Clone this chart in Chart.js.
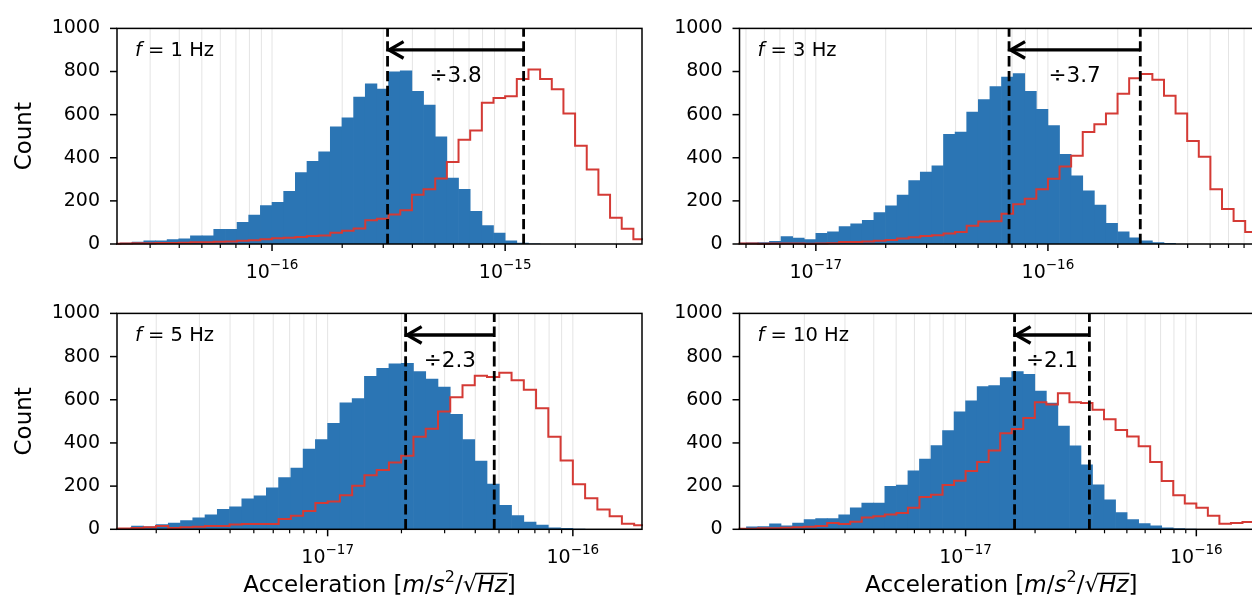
<!DOCTYPE html>
<html><head><meta charset="utf-8">
<script src="https://cdn.jsdelivr.net/npm/chart.js@4.4.1/dist/chart.umd.min.js"></script>
<style>
html,body{margin:0;padding:0;background:#fff;overflow:hidden;width:1252px;height:600px;}
#wrap{position:relative;width:1252px;height:600px;overflow:hidden;background:#fff;}
canvas{position:absolute;}
</style></head><body><div id="wrap">
<canvas id="c0"></canvas><canvas id="c1"></canvas><canvas id="c2"></canvas><canvas id="c3"></canvas>
</div>
<script>
// ---------------- DATA ----------------
const FREQ_LABELS = ['1', '3', '5', '10'];
const RATIO_LABELS = ['÷3.8', '÷3.7', '÷2.3', '÷2.1'];
const X_MIN_EXP = [-16.665, -17.329, -17.859, -17.98];
const X_MAX_EXP = [-14.413, -15.069, -15.718, -15.711];
const X_DECADES = [[-16, -15], [-17, -16], [-17, -16], [-17, -16]];
const Y_TICKS = [0, 200, 400, 600, 800, 1000];
const BIN_START_EXP = [-16.70, -17.35, -17.90, -18.00];
const BIN_WIDTH_DEX = 0.05;

const BLUE_1 = [3, 4, 9, 15, 15, 21, 24, 38, 38, 68, 68, 101, 134, 178, 193, 244, 331, 384, 427, 544, 585, 681, 743, 718, 799, 803, 708, 644, 497, 306, 254, 152, 85, 51, 15, 4, 1];
const RED_1 = [1, 2, 3, 4, 5, 5, 6, 8, 8, 10, 12, 15, 17, 22, 27, 29, 33, 37, 40, 52, 62, 72, 110, 117, 137, 157, 228, 254, 304, 380, 483, 527, 655, 677, 685, 765, 809, 765, 718, 605, 456, 346, 228, 122, 71, 22];
const BLUE_2 = [4, 6, 7, 12, 34, 28, 21, 50, 57, 81, 93, 110, 146, 177, 227, 294, 334, 363, 509, 519, 612, 670, 730, 774, 791, 708, 625, 549, 416, 316, 247, 181, 96, 56, 29, 15, 7, 3];
const RED_2 = [2, 2, 1, 2, 2, 2, 1, 2, 4, 9, 9, 12, 15, 19, 25, 31, 37, 41, 49, 56, 85, 104, 105, 140, 184, 210, 254, 303, 360, 409, 519, 556, 605, 697, 769, 788, 762, 688, 605, 478, 405, 254, 162, 107, 56];
const BLUE_3 = [3, 4, 15, 12, 22, 29, 40, 53, 67, 92, 104, 141, 155, 192, 239, 283, 371, 415, 491, 586, 605, 708, 745, 766, 769, 730, 696, 659, 532, 415, 316, 209, 111, 63, 34, 19, 7, 4, 1];
const RED_3 = [3, 4, 6, 9, 15, 6, 9, 12, 15, 15, 22, 25, 25, 25, 48, 63, 85, 122, 129, 158, 202, 250, 275, 309, 341, 429, 466, 546, 612, 667, 711, 705, 725, 690, 646, 561, 429, 319, 209, 144, 92, 60, 26, 19];
const BLUE_4 = [4, 12, 13, 25, 16, 29, 45, 50, 50, 67, 100, 122, 122, 199, 205, 271, 325, 388, 457, 544, 595, 661, 666, 703, 730, 718, 640, 585, 478, 387, 299, 206, 137, 78, 45, 26, 16, 7, 3, 1];
const RED_4 = [2, 3, 5, 5, 7, 10, 12, 15, 29, 25, 35, 55, 60, 68, 75, 100, 150, 160, 205, 225, 270, 312, 365, 445, 465, 515, 588, 578, 630, 588, 585, 554, 510, 460, 430, 385, 312, 224, 158, 119, 100, 63, 26, 29, 34];

const LINE_LOW = [3.13e-16, 6.8e-17, 2.08e-17, 1.63e-17];
const LINE_HIGH = [1.20e-15, 2.5e-16, 4.78e-17, 3.44e-17];
const ARROW_Y = 900;
const RATIO_TEXT_Y = 752;

const BLUE_SERIES = [BLUE_1, BLUE_2, BLUE_3, BLUE_4];
const RED_SERIES = [RED_1, RED_2, RED_3, RED_4];

// ---------------- STYLE / LAYOUT ----------------
const FONT = '"DejaVu Sans", sans-serif';
const C_BLUE = '#2b75b4', C_RED = '#d43a35', C_GRID = '#e4e4e4';
const LAYOUT = [
  {cv: {l: 0, t: 0, w: 680, h: 290}, area: {l: 117, t: 17.4, r: 642, b: 244}, yTitle: true, xTitle: false},
  {cv: {l: 620, t: 0, w: 680, h: 290}, area: {l: 739.5, t: 17.4, r: 1264, b: 244}, yTitle: false, xTitle: false},
  {cv: {l: 0, t: 285, w: 680, h: 315}, area: {l: 117, t: 301.8, r: 642, b: 529.3}, yTitle: true, xTitle: true},
  {cv: {l: 620, t: 285, w: 680, h: 315}, area: {l: 739.5, t: 301.8, r: 1263, b: 529.3}, yTitle: false, xTitle: true}
];

function fontOf(s) {
  return (s.it ? 'italic ' : '') + (s.size || 19) + 'px ' + FONT;
}
function drawRich(ctx, segs, x, y, align) {
  let total = 0;
  const w = segs.map(s => { ctx.font = fontOf(s); const m = ctx.measureText(s.t).width; total += m; return m; });
  let cx = align === 'center' ? x - total / 2 : x;
  ctx.textAlign = 'left'; ctx.textBaseline = 'alphabetic';
  segs.forEach((s, k) => {
    ctx.font = fontOf(s);
    ctx.fillText(s.t, cx, y - (s.dy || 0));
    if (s.over) {
      const sz = s.size || 19;
      ctx.save(); ctx.lineWidth = 1.4; ctx.strokeStyle = '#000';
      ctx.beginPath(); ctx.moveTo(cx - 2, y - 0.82 * sz); ctx.lineTo(cx + w[k] + 1, y - 0.82 * sz); ctx.stroke();
      ctx.restore();
    }
    cx += w[k];
  });
}
function tickValues(i) {
  const out = [];
  for (let e = Math.floor(X_MIN_EXP[i]); e <= Math.ceil(X_MAX_EXP[i]); e++) {
    for (let m = 1; m <= 9; m++) {
      const lv = e + Math.log10(m);
      if (lv >= X_MIN_EXP[i] && lv <= X_MAX_EXP[i]) out.push({v: m * Math.pow(10, e), major: m === 1});
    }
  }
  return out;
}

const deco = {
  id: 'deco',
  beforeDatasetsDraw(chart) {
    const i = chart.options.plugins.deco.idx;
    const {ctx, chartArea: a} = chart; const x = chart.scales.x;
    ctx.save(); ctx.strokeStyle = C_GRID; ctx.lineWidth = 1;
    tickValues(i).forEach(t => {
      const p = x.getPixelForValue(t.v);
      ctx.beginPath(); ctx.moveTo(p, a.top); ctx.lineTo(p, a.bottom); ctx.stroke();
    });
    ctx.restore();
  },
  afterDatasetsDraw(chart) {
    const i = chart.options.plugins.deco.idx;
    const {ctx, chartArea: a} = chart; const x = chart.scales.x, y = chart.scales.y;
    ctx.save();
    ctx.strokeStyle = '#000'; ctx.lineWidth = 2.8; ctx.setLineDash([10.3, 4.5]);
    [LINE_LOW[i], LINE_HIGH[i]].forEach(v => {
      const p = x.getPixelForValue(v);
      ctx.beginPath(); ctx.moveTo(p, a.bottom); ctx.lineTo(p, a.top); ctx.stroke();
    });
    ctx.setLineDash([]);
    const xl = x.getPixelForValue(LINE_LOW[i]), xr = x.getPixelForValue(LINE_HIGH[i]);
    const ya = y.getPixelForValue(ARROW_Y);
    ctx.lineWidth = 3.3; ctx.lineCap = 'butt';
    ctx.beginPath(); ctx.moveTo(xr, ya); ctx.lineTo(xl + 2, ya); ctx.stroke();
    ctx.lineJoin = 'miter';
    ctx.beginPath(); ctx.moveTo(xl + 16, ya - 8.3); ctx.lineTo(xl + 1.5, ya); ctx.lineTo(xl + 16, ya + 8.3); ctx.stroke();
    ctx.fillStyle = '#000'; ctx.font = '21.5px ' + FONT; ctx.textAlign = 'center'; ctx.textBaseline = 'alphabetic';
    const xm = x.getPixelForValue(Math.sqrt(LINE_LOW[i] * LINE_HIGH[i]));
    ctx.fillText(RATIO_LABELS[i], xm, y.getPixelForValue(RATIO_TEXT_Y));
    drawRich(ctx, [{t: 'f', it: true, size: 19.5}, {t: ' = ' + FREQ_LABELS[i] + ' Hz', size: 19.5}], a.left + 18, a.top + 27.6, 'left');
    ctx.restore();
  },
  afterDraw(chart) {
    const i = chart.options.plugins.deco.idx;
    const L = LAYOUT[i];
    const {ctx, chartArea: a} = chart; const x = chart.scales.x, y = chart.scales.y;
    ctx.save();
    ctx.strokeStyle = '#000'; ctx.fillStyle = '#000';
    ctx.lineWidth = 1.5;
    ctx.strokeRect(a.left, a.top, a.right - a.left, a.bottom - a.top);
    tickValues(i).forEach(t => {
      const p = x.getPixelForValue(t.v);
      ctx.lineWidth = t.major ? 1.5 : 1.2;
      ctx.beginPath(); ctx.moveTo(p, a.bottom); ctx.lineTo(p, a.bottom + (t.major ? 7 : 4)); ctx.stroke();
    });
    ctx.lineWidth = 1.5;
    Y_TICKS.forEach(v => {
      const p = y.getPixelForValue(v);
      ctx.beginPath(); ctx.moveTo(a.left - 7, p); ctx.lineTo(a.left, p); ctx.stroke();
    });
    X_DECADES[i].forEach(e => {
      const p = x.getPixelForValue(Math.pow(10, e));
      drawRich(ctx, [{t: '10'}, {t: '\u2212' + Math.abs(e), size: 13.5, dy: 9}], p, a.bottom + 34, 'center');
    });
    if (L.xTitle) {
      drawRich(ctx, [
        {t: 'Acceleration [', size: 23}, {t: 'm', it: true, size: 23}, {t: '/', size: 23}, {t: 's', it: true, size: 23},
        {t: '2', size: 16, dy: 10}, {t: '/', size: 23}, {t: '\u221A', size: 23}, {t: 'Hz', it: true, over: true, size: 23}, {t: ']', size: 23}
      ], (a.left + a.right) / 2, a.bottom + 63, 'center');
    }
    ctx.restore();
  }
};

function makeChart(i) {
  const L = LAYOUT[i];
  const cv = document.getElementById('c' + i);
  cv.width = L.cv.w; cv.height = L.cv.h;
  cv.style.left = L.cv.l + 'px'; cv.style.top = L.cv.t + 'px';
  cv.style.width = L.cv.w + 'px'; cv.style.height = L.cv.h + 'px';
  const start = BIN_START_EXP[i];
  const barData = BLUE_SERIES[i].map((c, k) => ({x: Math.pow(10, start + (k + 0.5) * BIN_WIDTH_DEX), y: c}));
  const red = RED_SERIES[i];
  const lineData = [{x: Math.pow(10, start), y: 0}];
  red.forEach((c, k) => lineData.push({x: Math.pow(10, start + k * BIN_WIDTH_DEX), y: c}));
  lineData.push({x: Math.pow(10, start + red.length * BIN_WIDTH_DEX), y: 0});

  new Chart(cv, {
    type: 'bar',
    data: {datasets: [
      {type: 'line', data: lineData, borderColor: C_RED, borderWidth: 2, pointRadius: 0, stepped: 'before',
       fill: false, tension: 0, order: 0, clip: 1},
      {type: 'bar', data: barData, backgroundColor: C_BLUE, borderWidth: 0, barPercentage: 1,
       categoryPercentage: 1, order: 1, clip: 0}
    ]},
    options: {
      responsive: false, animation: false, events: [],
      layout: {padding: {left: 0, top: L.area.t - L.cv.t, right: L.cv.l + L.cv.w - L.area.r, bottom: 0}},
      plugins: {legend: {display: false}, tooltip: {enabled: false}, deco: {idx: i}},
      scales: {
        x: {
          type: 'logarithmic', min: Math.pow(10, X_MIN_EXP[i]), max: Math.pow(10, X_MAX_EXP[i]),
          offset: false, grid: {display: false, offset: false, drawTicks: false}, border: {display: false},
          ticks: {display: false},
          afterBuildTicks: s => { s.ticks = X_DECADES[i].map(e => ({value: Math.pow(10, e), major: true})); },
          afterFit: s => { s.height = L.cv.t + L.cv.h - L.area.b; }
        },
        y: {
          type: 'linear', min: 0, max: 1000,
          grid: {display: false, drawTicks: false}, border: {display: false},
          ticks: {stepSize: 200, color: '#000', padding: 17, font: {family: FONT, size: 19},
                  callback: v => String(v)},
          title: {display: L.yTitle, text: 'Count', color: '#000', font: {family: FONT, size: 23},
                  padding: {top: 11.2, bottom: 0}},
          afterFit: s => { s.width = L.area.l - L.cv.l; }
        }
      }
    },
    plugins: [deco]
  });
}
for (let i = 0; i < 4; i++) makeChart(i);
</script></body></html>
